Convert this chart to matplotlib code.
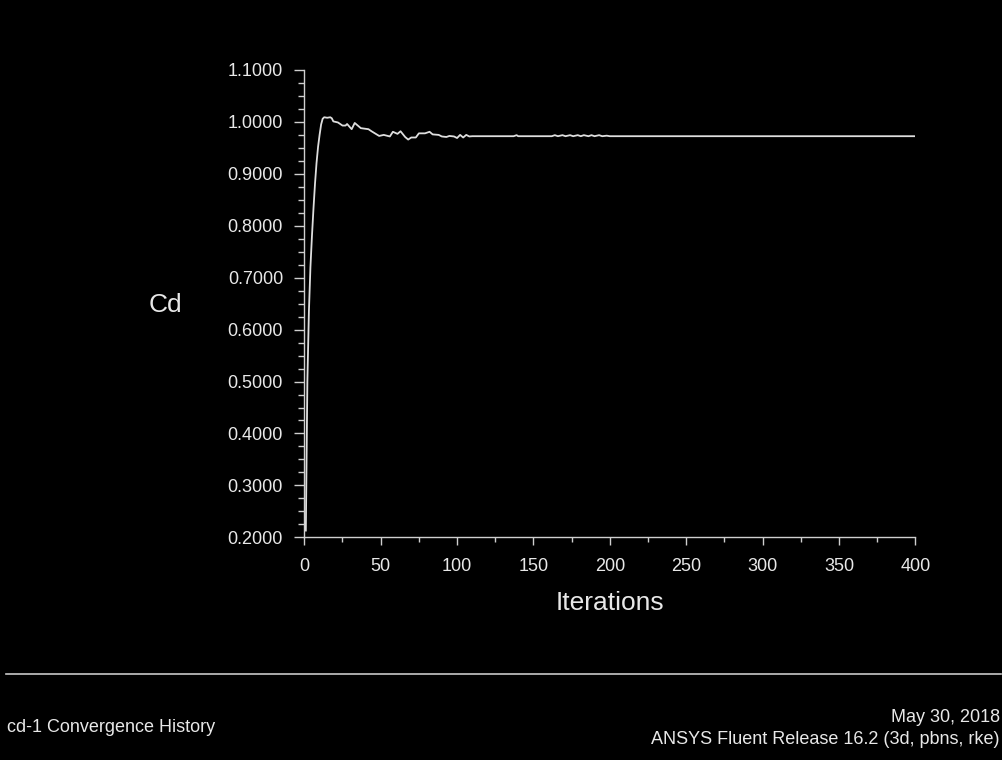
import matplotlib
matplotlib.use('Agg')
import matplotlib.pyplot as plt
from matplotlib.lines import Line2D
from matplotlib.ticker import MultipleLocator, FormatStrFormatter

plt.rcParams['font.family'] = ['Liberation Sans', 'DejaVu Sans']

# Cd monitor history (iteration, drag coefficient)
iterations = [1, 2, 3, 4, 5, 6, 7, 8, 9, 10, 11, 12, 13, 15, 17, 18, 19, 22,
              25, 27, 28, 31, 33, 37, 42, 44, 49, 52, 56, 58, 61, 63, 66, 68,
              70, 73, 75, 79, 82, 84, 88, 90, 93, 95, 98, 100, 102, 104, 106,
              108, 110, 137, 139, 140, 162, 164, 166, 169, 171, 174, 176, 179,
              181, 183, 186, 188, 190, 193, 195, 198, 200, 400]
cd_values = [0.213, 0.500, 0.634, 0.720, 0.780, 0.833, 0.881, 0.921, 0.952,
             0.975, 0.995, 1.006, 1.009, 1.008, 1.009, 1.007, 1.001, 0.999,
             0.993, 0.993, 0.996, 0.986, 0.998, 0.988, 0.986, 0.982, 0.973,
             0.975, 0.972, 0.981, 0.977, 0.982, 0.971, 0.966, 0.970, 0.970,
             0.978, 0.978, 0.981, 0.976, 0.975, 0.972, 0.971, 0.973, 0.972,
             0.969, 0.975, 0.970, 0.975, 0.972, 0.9725, 0.9725, 0.9745, 0.9725,
             0.9725, 0.9745, 0.9725, 0.9745, 0.9725, 0.9745, 0.9725, 0.9745,
             0.9725, 0.9745, 0.9725, 0.9745, 0.9725, 0.9745, 0.9725, 0.9735,
             0.9725, 0.9725]

title_text = 'cd-1 Convergence History'
date_text = 'May 30, 2018'
release_text = 'ANSYS Fluent Release 16.2 (3d, pbns, rke)'

fg = '#e8e8e8'
axis_col = '#cfcfcf'

fig = plt.figure(figsize=(10.03, 7.60), dpi=100, facecolor='black')
ax = fig.add_axes([0.3034, 0.2930, 0.6092, 0.6149], facecolor='black')

ax.plot(iterations, cd_values, color='#dedede', lw=1.3)

ax.set_xlim(0, 400)
ax.set_ylim(0.2, 1.1)
ax.xaxis.set_major_locator(MultipleLocator(50))
ax.xaxis.set_minor_locator(MultipleLocator(25))
ax.yaxis.set_major_locator(MultipleLocator(0.1))
ax.yaxis.set_minor_locator(MultipleLocator(0.025))
ax.yaxis.set_major_formatter(FormatStrFormatter('%.4f'))

for side in ['top', 'right']:
    ax.spines[side].set_visible(False)
for side in ['left', 'bottom']:
    ax.spines[side].set_color(axis_col)
    ax.spines[side].set_linewidth(1.0)

ax.tick_params(axis='x', which='major', length=6, width=1.0, color=axis_col,
               labelcolor=fg, labelsize=13, pad=9)
ax.tick_params(axis='x', which='minor', length=3.8, width=1.0, color=axis_col)
ax.tick_params(axis='y', which='major', length=7.3, width=1.0, color=axis_col,
               labelcolor=fg, labelsize=13, pad=8)
ax.tick_params(axis='y', which='minor', length=4.3, width=1.0, color=axis_col)

fig.text(165 / 1003, 1 - 305 / 760, 'Cd', color=fg, fontsize=19,
         ha='center', va='center')
fig.text(610 / 1003, 1 - 603 / 760, 'Iterations', color=fg, fontsize=19,
         ha='center', va='center')

# footer
fig.add_artist(Line2D([0.006, 0.998], [1 - 674 / 760, 1 - 674 / 760],
                      transform=fig.transFigure, color='#c8c8c8', lw=1.2))
fig.text(7 / 1003, 1 - 727 / 760, title_text, color=fg, fontsize=13,
         ha='left', va='center')
fig.text(1000 / 1003, 1 - 717 / 760, date_text, color=fg, fontsize=13,
         ha='right', va='center')
fig.text(1000 / 1003, 1 - 739 / 760, release_text, color=fg, fontsize=13,
         ha='right', va='center')

fig.savefig('out.png', dpi=100, facecolor='black')
